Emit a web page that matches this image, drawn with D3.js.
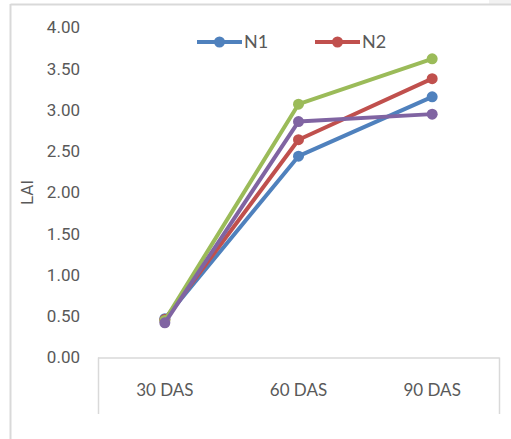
<!DOCTYPE html>
<html><head><meta charset="utf-8">
<script src="https://cdn.jsdelivr.net/npm/d3@7"></script>
<style>body{margin:0;background:#fff}svg{display:block}</style>
</head><body>
<svg id="c" width="511" height="439"></svg>
<script>
const categories = ["30 DAS", "60 DAS", "90 DAS"];
const seriesNames = ["N1", "N2", "N3", "N4"];
const n1 = [0.47, 2.44, 3.16];
const n2 = [0.46, 2.64, 3.38];
const n3 = [0.45, 3.07, 3.62];
const n4 = [0.42, 2.86, 2.95];
const yTicks = [0, 0.5, 1, 1.5, 2, 2.5, 3, 3.5, 4];
const colors = ["#4F81BD", "#C0504D", "#9BBB59", "#8064A2"];
const legendShown = ["N1", "N2"];

const series = [n1, n2, n3, n4].map((v, i) => ({name: seriesNames[i], values: v, color: colors[i]}));
const svg = d3.select("#c");
const font = "Lato, sans-serif";

// chart frame
svg.append("rect").attr("x", 489).attr("y", 0).attr("width", 22).attr("height", 4).attr("fill", "#f2f2f2");
svg.append("line").attr("x1", 10.5).attr("x2", 511).attr("y1", 4.5).attr("y2", 4.5).attr("stroke", "#d9d9d9").attr("stroke-width", 2);
svg.append("line").attr("x1", 10.5).attr("x2", 10.5).attr("y1", 4).attr("y2", 439).attr("stroke", "#d9d9d9").attr("stroke-width", 2);

const x = d3.scaleBand().domain(categories).range([98, 499]);
const y = d3.scaleLinear().domain([0, 4]).range([357.5, 27.5]);

// y axis labels
svg.append("g").selectAll("text").data(yTicks).join("text")
  .attr("x", 80).attr("y", d => y(d)).attr("dy", "0.35em")
  .attr("text-anchor", "end").attr("fill", "#595959")
  .style("font-family", "Roboto, sans-serif").style("font-size", "17px")
  .text(d => d3.format(".2f")(d));

svg.append("text").attr("transform", `translate(33,${y(2)}) rotate(-90)`)
  .attr("text-anchor", "middle").attr("fill", "#595959")
  .style("font-family", "Roboto, sans-serif").style("font-size", "17px").text("LAI");

// x axis
const xa = svg.append("g");
xa.append("line").attr("x1", 98).attr("x2", 499.5).attr("y1", y(0) + 0.5).attr("y2", y(0) + 0.5).attr("stroke", "#d9d9d9").attr("stroke-width", 1.5);
[98, 499].forEach(px => xa.append("line").attr("x1", px + 0.5).attr("x2", px + 0.5).attr("y1", y(0)).attr("y2", 414).attr("stroke", "#d9d9d9").attr("stroke-width", 1.5));
xa.selectAll("text.cat").data(categories).join("text").attr("class", "cat")
  .attr("x", d => x(d) + x.bandwidth() / 2).attr("y", 390).attr("dy", "0.35em")
  .attr("text-anchor", "middle").attr("fill", "#595959")
  .style("font-family", font).style("font-size", "17px").text(d => d);

// lines
const line = d3.line().x((d, i) => x(categories[i]) + x.bandwidth() / 2).y(d => y(d));
const g = svg.append("g");
series.forEach(s => {
  g.append("path").attr("d", line(s.values)).attr("fill", "none")
    .attr("stroke", s.color).attr("stroke-width", 4).attr("stroke-linejoin", "round");
  g.selectAll(null).data(s.values).join("circle")
    .attr("cx", (d, i) => x(categories[i]) + x.bandwidth() / 2).attr("cy", d => y(d))
    .attr("r", 5.5).attr("fill", s.color);
});

// legend
const lx = [197, 315];
legendShown.forEach((name, i) => {
  const s = series.find(t => t.name === name);
  const lg = svg.append("g").attr("transform", `translate(${lx[i]},42)`);
  lg.append("line").attr("x1", 0).attr("x2", 45).attr("y1", 0).attr("y2", 0).attr("stroke", s.color).attr("stroke-width", 4);
  lg.append("circle").attr("cx", 22.5).attr("cy", 0).attr("r", 5.5).attr("fill", s.color);
  lg.append("text").attr("x", 47).attr("y", 0).attr("dy", "0.35em").attr("fill", "#595959")
    .style("font-family", font).style("font-size", "18px").text(name);
});
</script>
</body></html>
